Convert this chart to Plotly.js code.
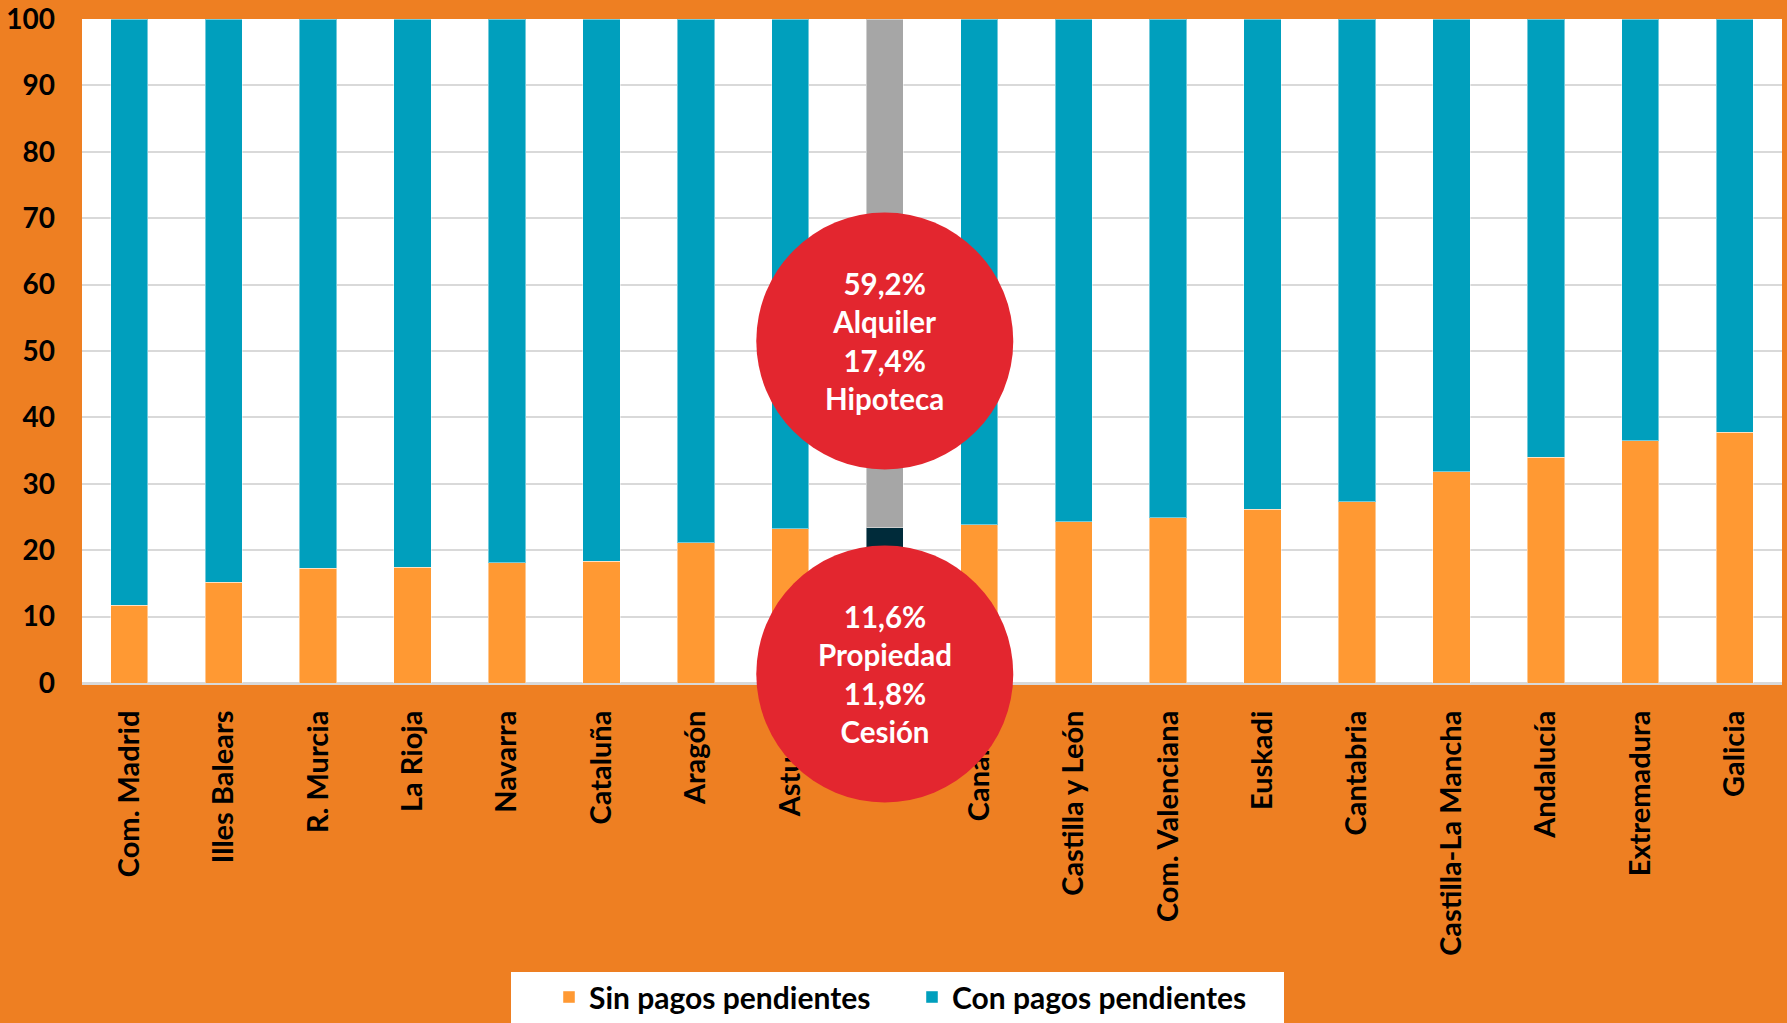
<!DOCTYPE html>
<html>
<head>
<meta charset="utf-8">
<script src="https://cdn.plot.ly/plotly-3.0.1.min.js"></script>
<style>html,body{margin:0;padding:0;background:#EE7F22;}</style>
</head>
<body>
<div id="chart" style="width:1787px;height:1023px;"></div>
<script>
// ---- data ----
const categories = ["Com. Madrid","Illes Balears","R. Murcia","La Rioja","Navarra","Cataluña","Aragón","Asturias","España","Canarias","Castilla y León","Com. Valenciana","Euskadi","Cantabria","Castilla-La Mancha","Andalucía","Extremadura","Galicia"];
const sinPagos = [11.7, 15.2, 17.3, 17.4, 18.1, 18.3, 21.1, 23.2, 23.4, 23.8, 24.3, 24.9, 26.2, 27.3, 31.8, 34.0, 36.5, 37.8];
const conPagos = [88.3, 84.8, 82.7, 82.6, 81.9, 81.7, 78.9, 76.8, 76.6, 76.2, 75.7, 75.1, 73.8, 72.7, 68.2, 66.0, 63.5, 62.2];
const seriesNames = ["Sin pagos pendientes", "Con pagos pendientes"];
const yTicks = [0,10,20,30,40,50,60,70,80,90,100];
// España breakdown shown in the circles
const conLabels = ["Alquiler", "Hipoteca"];
const conShares = ["59,2%", "17,4%"];
const sinLabels = ["Propiedad", "Cesión"];
const sinShares = ["11,6%", "11,8%"];
const highlight = "España";

// ---- styling ----
const FONT = "Lato, 'Open Sans', sans-serif";
const ORANGE = "#FF9933", TEAL = "#009FBD", DARK = "#002B3A", GRAY = "#A6A6A6";
const hi = categories.indexOf(highlight);
const sinColors = categories.map((c,i) => i === hi ? DARK : ORANGE);
const conColors = categories.map((c,i) => i === hi ? GRAY : TEAL);

const traces = [
  {type:"bar", name:seriesNames[0], x:categories, y:sinPagos,
   marker:{color:sinColors, line:{color:"rgba(255,255,255,0.45)", width:1}}},
  {type:"bar", name:seriesNames[1], x:categories, y:conPagos,
   marker:{color:conColors, line:{color:"rgba(255,255,255,0.45)", width:1}}}
];

// geometry (pixels) of plot area
const W = 1787, H = 1023, mL = 82, mR = 5, mT = 19, mB = 340;
const pw = W - mL - mR, ph = H - mT - mB;
const px2x = p => (p - mL) / pw;
const py2y = p => (H - mB - p) / ph;

const cx = px2x(mL + pw * (hi + 0.5) / categories.length);
const R = 128.5;
function circle(cyPx) {
  return {type:"circle", xref:"paper", yref:"paper", layer:"above",
    x0: cx - R/pw, x1: cx + R/pw, y0: py2y(cyPx + R), y1: py2y(cyPx - R),
    fillcolor:"#E3262F", line:{width:0}};
}
const topCy = 341, botCy = 674;

const annText = (shares, labels) => shares.map((s,i) => s + "<br>" + labels[i]).join("<br>");

const layout = {
  width: W, height: H,
  margin: {l:mL, r:mR, t:mT, b:mB, pad:0, autoexpand:false},
  paper_bgcolor: "#EE7F22",
  plot_bgcolor: "#FFFFFF",
  barmode: "stack",
  bargap: 0.605,
  font: {family: FONT, color:"#000000"},
  xaxis: {
    type:"category", tickangle:-90, ticks:"", ticklabelstandoff: 14,
    tickfont:{family:FONT, size:29, color:"#000", weight:"bold"},
    showline:true, linecolor:"#D9D9D9", linewidth:2, showgrid:false, automargin:false
  },
  yaxis: {
    range:[0,100], tickvals:yTicks, ticktext:yTicks.map(String), ticks:"",
    ticklabelstandoff: 26, automargin:false,
    tickfont:{family:FONT, size:28, color:"#000", weight:"bold"},
    showgrid:true, gridcolor:"#D9D9D9", gridwidth:2,
    zeroline:true, zerolinecolor:"#D9D9D9", zerolinewidth:2, showline:false
  },
  showlegend: true,
  legend: {
    orientation:"h", x: px2x(549), xanchor:"left",
    yref:"container", y: 1 - 971/H, yanchor:"top",
    bgcolor:"rgba(0,0,0,0)", borderwidth:0,
    font:{family:FONT, size:30, color:"#000", weight:"bold"},
    entrywidth: 318, entrywidthmode:"pixels", traceorder:"normal"
  },
  shapes: [
    {type:"rect", xref:"paper", yref:"paper", layer:"below",
     x0: px2x(511), x1: px2x(1284), y0: py2y(1030), y1: py2y(972),
     fillcolor:"#FFFFFF", line:{width:0}},
    circle(topCy), circle(botCy)
  ],
  annotations: [
    {xref:"paper", yref:"paper", x:cx, y:py2y(topCy), xanchor:"center", yanchor:"middle",
     text:annText(conShares, conLabels),
     showarrow:false, font:{family:FONT, size:29.5, color:"#FFFFFF", weight:"bold"}, align:"center"},
    {xref:"paper", yref:"paper", x:cx, y:py2y(botCy), xanchor:"center", yanchor:"middle",
     text:annText(sinShares, sinLabels),
     showarrow:false, font:{family:FONT, size:29.5, color:"#FFFFFF", weight:"bold"}, align:"center"}
  ]
};

Plotly.newPlot("chart", traces, layout, {displayModeBar:false, staticPlot:true});
</script>
</body>
</html>
